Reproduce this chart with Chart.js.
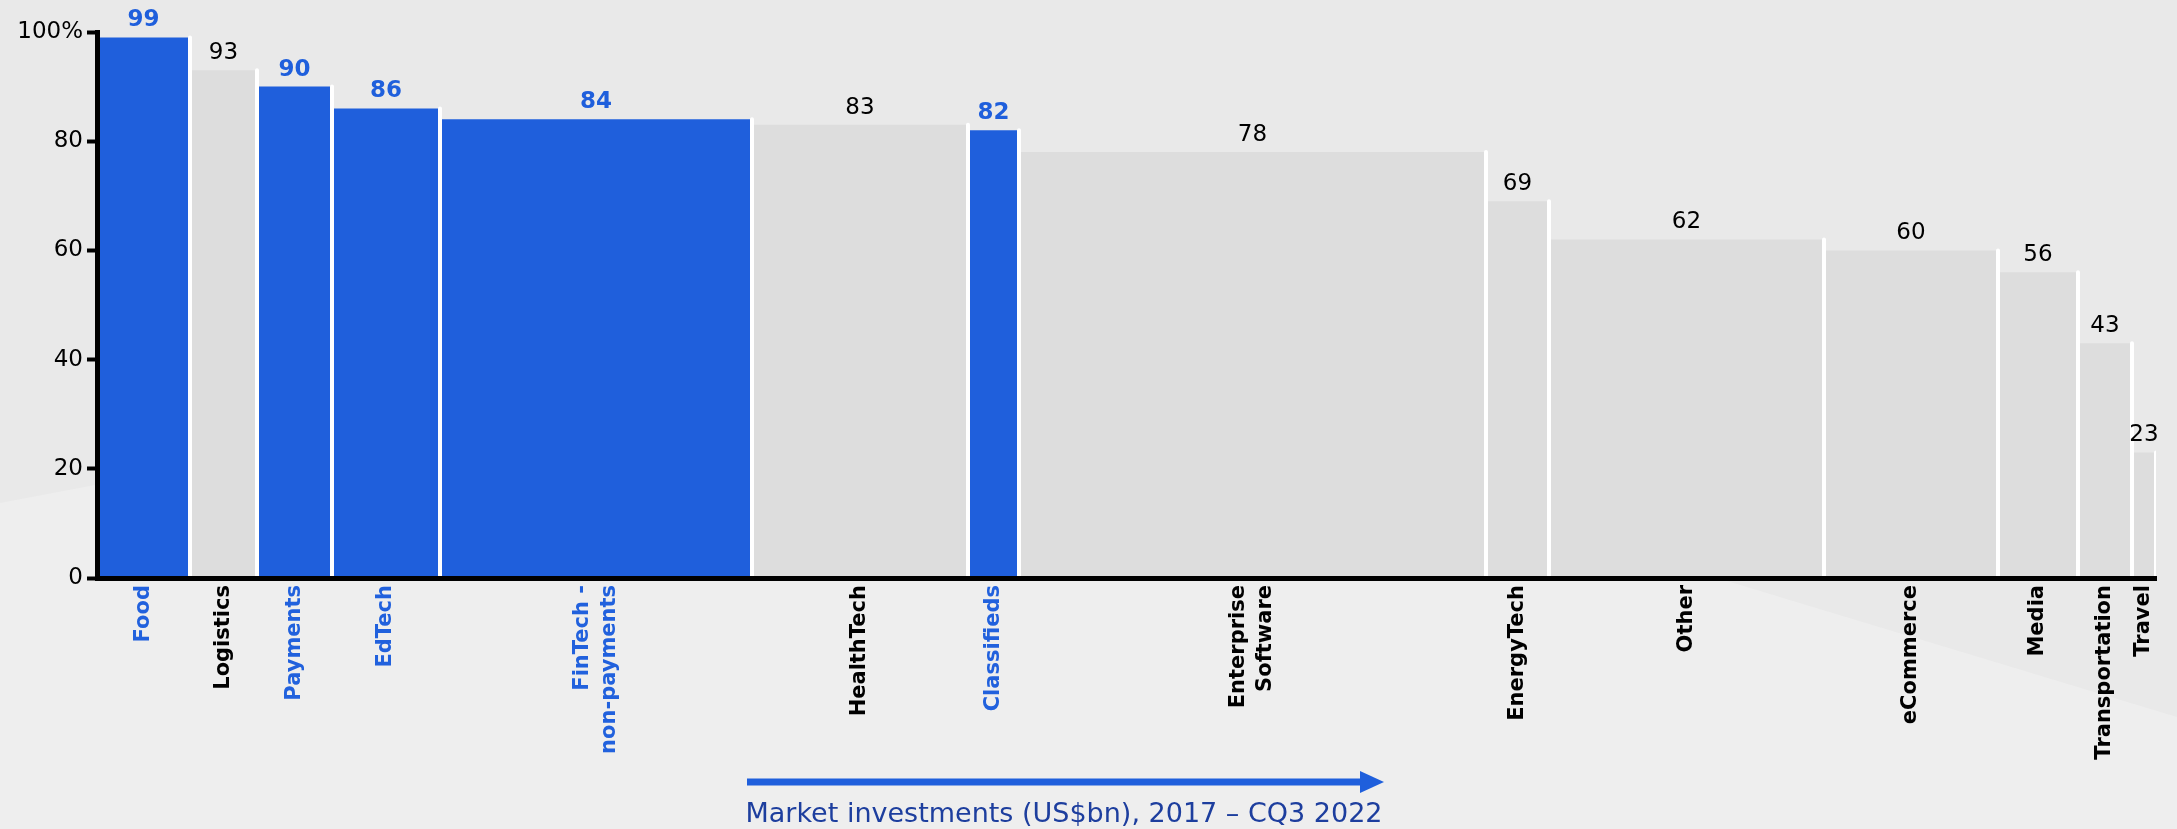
<!DOCTYPE html>
<html lang="en">
<head>
    <meta charset="UTF-8">
    <title>Share by sector vs market investments</title>
    <script src="https://cdn.jsdelivr.net/npm/chart.js"></script>
    <style>
        body { margin: 0; background: #e9e9e9; }
        #wrap { position: relative; width: 2177px; height: 829px; overflow: hidden; }
        /* lighter wedge in the lower part of the background */
        #shade {
            position: absolute; left: 0; top: 0; width: 2177px; height: 829px;
            background: #eeeeee;
            clip-path: polygon(0 503px, 902px 332px, 2177px 717px, 2177px 829px, 0 829px);
        }
        #chart { position: absolute; left: 0; top: 0; }
    </style>
</head>
<body>
<div id="wrap">
    <div id="shade"></div>
    <canvas id="chart" width="2177" height="829"></canvas>
</div>

<script>
    // sectors, left to right
    const categories = ['Food', 'Logistics', 'Payments', 'EdTech', ['FinTech -', 'non-payments'], 'HealthTech',
        'Classifieds', ['Enterprise', 'Software'], 'EnergyTech', 'Other', 'eCommerce', 'Media', 'Transportation', 'Travel'];
    // bar height (%)
    const shares = [99, 93, 90, 86, 84, 83, 82, 78, 69, 62, 60, 56, 43, 23];
    // bar width: market investments (relative)
    const investments = [93, 67, 75, 108, 312, 216, 51, 467, 63, 275, 174, 80, 54, 24];
    // sectors shown in blue
    const highlighted = [true, false, true, true, true, false, true, false, false, false, false, false, false, false];
    const yTicks = [0, 20, 40, 60, 80, 100];

    const BLUE = '#1f5fdc';
    const GREY = '#dddddd';
    const FONT = "'DejaVu Sans', Verdana, sans-serif";

    // cumulative x positions
    const starts = [];
    let acc = 0;
    investments.forEach(w => { starts.push(acc); acc += w; });
    const total = acc;

    // each bar is a closed step line filled down to zero; only its right edge gets a white stroke
    const datasets = shares.map((v, i) => {
        const x0 = starts[i], x1 = starts[i] + investments[i];
        return {
            label: Array.isArray(categories[i]) ? categories[i].join(' ') : categories[i],
            data: [{x: x0, y: 0}, {x: x0, y: v}, {x: x1, y: v}, {x: x1, y: 0}],
            backgroundColor: highlighted[i] ? BLUE : GREY,
            fill: 'origin',
            borderWidth: 4,
            borderColor: '#ffffff',
            borderCapStyle: 'round',
            pointRadius: 0,
            tension: 0,
            segment: {
                borderColor: ctx => ctx.p0DataIndex === 2 ? '#ffffff' : 'rgba(0,0,0,0)'
            }
        };
    });

    const labelsPlugin = {
        id: 'labels',
        afterDraw(chart) {
            const ctx = chart.ctx;
            const xs = chart.scales.x, ys = chart.scales.y;
            const area = chart.chartArea;
            ctx.save();

            // value on top of each bar
            ctx.textAlign = 'center';
            ctx.textBaseline = 'alphabetic';
            shares.forEach((v, i) => {
                const cx = xs.getPixelForValue(starts[i] + investments[i] / 2);
                const top = ys.getPixelForValue(v);
                ctx.font = (highlighted[i] ? 'bold ' : '') + '23px ' + FONT;
                ctx.fillStyle = highlighted[i] ? BLUE : '#000000';
                ctx.fillText(String(v), cx, top - 11);
            });

            // sector names, rotated, hanging from the axis
            ctx.font = 'bold 21px ' + FONT;
            ctx.textAlign = 'right';
            ctx.textBaseline = 'middle';
            const lineH = 27;
            categories.forEach((c, i) => {
                const lines = Array.isArray(c) ? c : [c];
                const cx = xs.getPixelForValue(starts[i] + investments[i] / 2);
                ctx.fillStyle = highlighted[i] ? '#2161dd' : '#000000';
                lines.forEach((t, k) => {
                    const lx = cx + (k - (lines.length - 1) / 2) * lineH;
                    ctx.save();
                    ctx.translate(lx, area.bottom + 7);
                    ctx.rotate(-Math.PI / 2);
                    ctx.fillText(t, 0, 0);
                    ctx.restore();
                });
            });

            // arrow under the axis
            const ax0 = 747, ax1 = 1384, ay = 782;
            ctx.strokeStyle = BLUE;
            ctx.fillStyle = BLUE;
            ctx.lineWidth = 7;
            ctx.beginPath();
            ctx.moveTo(ax0, ay);
            ctx.lineTo(ax1 - 20, ay);
            ctx.stroke();
            ctx.beginPath();
            ctx.moveTo(ax1 - 24, ay - 11);
            ctx.lineTo(ax1, ay);
            ctx.lineTo(ax1 - 24, ay + 11);
            ctx.closePath();
            ctx.fill();

            ctx.font = '27px ' + FONT;
            ctx.fillStyle = '#1d3e9e';
            ctx.textAlign = 'center';
            ctx.textBaseline = 'alphabetic';
            ctx.fillText('Market investments (US$bn), 2017 \u2013 CQ3 2022', 1064, 822);
            ctx.restore();
        }
    };

    new Chart(document.getElementById('chart'), {
        type: 'line',
        data: { datasets: datasets },
        options: {
            responsive: false,
            animation: false,
            events: [],
            layout: { padding: { top: 32, right: 21, left: 0, bottom: 0 } },
            plugins: {
                legend: { display: false },
                tooltip: { enabled: false }
            },
            scales: {
                x: {
                    type: 'linear',
                    min: 0,
                    max: total,
                    grid: { display: false },
                    ticks: { display: false },
                    border: { display: true, color: '#000000', width: 5, z: 1 },
                    afterFit: scale => { scale.height = 251; }
                },
                y: {
                    min: 0,
                    max: 100,
                    afterBuildTicks: scale => { scale.ticks = yTicks.map(v => ({ value: v })); },
                    ticks: {
                        color: '#000000',
                        font: { family: FONT, size: 23 },
                        padding: 4,
                        callback: v => v === 100 ? '100%' : String(v)
                    },
                    grid: {
                        drawOnChartArea: false,
                        drawTicks: true,
                        tickLength: 10,
                        tickWidth: 4,
                        tickColor: '#000000'
                    },
                    border: { display: true, color: '#000000', width: 5, z: 1 },
                    afterFit: scale => { scale.width = 97; }
                }
            }
        },
        plugins: [labelsPlugin]
    });
</script>
</body>
</html>
